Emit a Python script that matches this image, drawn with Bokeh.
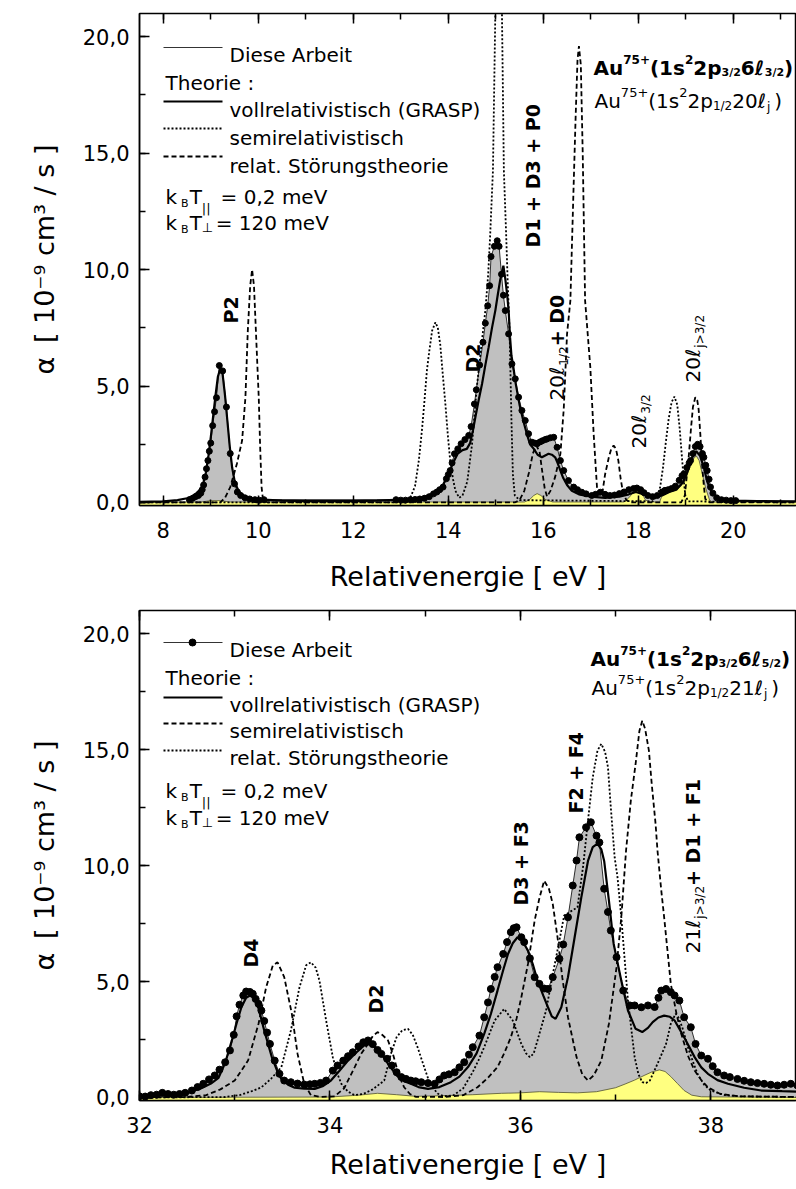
import math
from bokeh.plotting import figure
from bokeh.layouts import column
from bokeh.models import LinearAxis, SingleIntervalTicker, CustomLabelingPolicy
from bokeh.core.properties import value
from bokeh.embed import file_html
from bokeh.resources import INLINE

FONT = "DejaVu Sans"

# ---------------- upper panel: Au75+ 6l3/2 / 20lj resonances ----------------
top_exp_e = [8.55, 8.62, 8.68, 8.74, 8.79, 8.82, 8.85, 8.88, 8.91, 8.94, 8.97, 9.00, 9.04, 9.08, 9.12,
             9.18, 9.25, 9.33, 9.41, 9.50, 9.56, 9.63, 9.72, 9.82, 9.93, 10.02, 10.12,
             12.90, 13.00, 13.10, 13.20, 13.30, 13.40, 13.50, 13.60, 13.69, 13.76, 13.82, 13.89, 13.96,
             14.00, 14.04, 14.08, 14.13, 14.20, 14.27, 14.35, 14.43, 14.48, 14.55, 14.59, 14.66, 14.73,
             14.78, 14.83, 14.87, 14.90, 14.97, 15.03, 15.07, 15.12, 15.16, 15.20, 15.27, 15.34, 15.41,
             15.48, 15.55, 15.62, 15.69, 15.76, 15.82, 15.87, 15.93, 15.98, 16.04, 16.08, 16.15, 16.22,
             16.29, 16.36, 16.43, 16.53, 16.64, 16.72, 16.81, 16.90, 17.02, 17.10, 17.20, 17.30, 17.40,
             17.50, 17.60, 17.70, 17.80, 17.90, 17.97, 18.05, 18.12, 18.20, 18.30, 18.40, 18.50, 18.56,
             18.63, 18.70, 18.78, 18.86, 18.92, 18.96, 19.02, 19.07, 19.10, 19.15, 19.20, 19.25, 19.30,
             19.35, 19.38, 19.42, 19.45, 19.49, 19.52, 19.57, 19.65, 19.75, 19.85, 19.95, 20.05]
top_exp_a = [0.12, 0.18, 0.25, 0.30, 0.40, 0.55, 0.75, 1.09, 1.45, 1.80, 2.20, 2.55, 3.30, 3.90, 4.50,
             5.88, 5.65, 4.10, 2.10, 0.80, 0.45, 0.30, 0.20, 0.15, 0.12, 0.10, 0.12,
             0.12, 0.10, 0.10, 0.12, 0.13, 0.15, 0.18, 0.25, 0.37, 0.45, 0.55, 0.66, 1.02,
             1.20, 1.37, 1.70, 2.09, 2.30, 2.52, 2.70, 2.88, 3.26, 4.23, 4.84, 5.90, 6.88,
             7.70, 8.45, 9.31, 10.56, 11.00, 11.24, 11.00, 9.80, 8.90, 8.24, 7.24, 5.95, 5.31,
             4.52, 3.95, 3.52, 2.95, 2.59, 2.55, 2.52, 2.60, 2.65, 2.70, 2.73, 2.78, 2.80,
             2.37, 1.80, 1.37, 0.94, 0.66, 0.55, 0.44, 0.37, 0.30, 0.35, 0.44, 0.35, 0.30,
             0.32, 0.38, 0.45, 0.55, 0.60, 0.62, 0.55, 0.42, 0.30, 0.25, 0.30, 0.45, 0.52,
             0.55, 0.60, 0.70, 0.95, 1.15, 1.23, 1.50, 1.70, 1.80, 2.10, 2.40, 2.50, 2.40,
             2.10, 1.94, 1.60, 1.37, 1.00, 0.66, 0.40, 0.20, 0.12, 0.10, 0.08, 0.08]

top_grasp_e = [7.5, 8.0, 8.3, 8.5, 8.6, 8.7, 8.8, 8.85, 8.9, 8.95, 9.0, 9.05, 9.1, 9.15, 9.2, 9.25,
               9.3, 9.35, 9.4, 9.45, 9.5, 9.55, 9.6, 9.7, 9.8, 10.0, 10.5, 11.0, 12.0, 12.5, 13.0,
               13.3, 13.5, 13.7, 13.8, 13.9, 14.0, 14.1, 14.2, 14.3, 14.39, 14.46, 14.52, 14.57,
               14.64, 14.71, 14.78, 14.85, 14.92, 14.99, 15.04, 15.09, 15.16, 15.2, 15.24, 15.27,
               15.3, 15.33, 15.36, 15.42, 15.5, 15.58, 15.66, 15.72, 15.8, 15.88, 15.97, 16.04,
               16.11, 16.18, 16.25, 16.3, 16.36, 16.42, 16.5, 16.6, 16.75, 17.0, 17.3, 17.6, 17.8,
               17.95, 18.1, 18.3, 18.5, 18.65, 18.8, 18.95, 19.05, 19.15, 19.22, 19.3, 19.38,
               19.45, 19.55, 19.7, 20.0, 20.5, 21.35]
top_grasp_a = [0.03, 0.05, 0.10, 0.18, 0.25, 0.40, 0.60, 0.90, 1.30, 2.00, 2.80, 3.70, 4.60, 5.40,
               5.75, 5.50, 4.60, 3.50, 2.40, 1.50, 0.95, 0.65, 0.45, 0.28, 0.20, 0.13, 0.08, 0.06,
               0.06, 0.08, 0.12, 0.18, 0.25, 0.40, 0.55, 0.80, 1.20, 1.70, 2.10, 2.25, 2.30, 2.55,
               3.10, 3.66, 4.40, 5.09, 5.90, 6.67, 7.50, 8.24, 8.90, 9.53, 10.17, 9.60, 8.90, 8.24,
               7.10, 6.30, 5.95, 5.10, 4.20, 3.50, 2.90, 2.50, 2.30, 2.05, 1.94, 2.02, 2.09, 2.05,
               1.94, 1.70, 1.37, 1.05, 0.75, 0.50, 0.35, 0.25, 0.20, 0.25, 0.35, 0.45, 0.35, 0.20,
               0.30, 0.45, 0.55, 0.90, 1.40, 2.00, 2.20, 2.00, 1.50, 0.90, 0.40, 0.15, 0.08, 0.06,
               0.05]

top_semi_e = [7.5, 12.9, 13.1, 13.2, 13.3, 13.38, 13.45, 13.5, 13.55, 13.6, 13.66, 13.73, 13.78,
              13.83, 13.88, 13.94, 13.99, 14.04, 14.1, 14.15, 14.23, 14.3, 14.4, 14.5, 14.6, 14.7,
              14.78, 14.84, 14.88, 14.94, 14.99, 15.03, 15.06, 15.1, 15.13, 15.17, 15.22, 15.25,
              15.29, 15.33, 15.36, 15.4, 15.5, 18.3, 18.4, 18.46, 18.52, 18.58, 18.64, 18.7, 18.76,
              18.82, 18.87, 18.92, 18.96, 18.99, 19.05, 21.35]
top_semi_a = [0.0, 0.0, 0.08, 0.20, 0.70, 1.80, 3.20, 4.40, 5.67, 6.50, 7.38, 7.74, 7.50, 6.80,
              5.60, 4.20, 2.90, 1.80, 1.00, 0.50, 0.20, 0.30, 0.90, 2.50, 4.95, 6.80, 8.24, 9.80,
              11.40, 14.25, 21.00, 24.00, 24.50, 23.00, 21.00, 14.25, 11.40, 9.50, 7.40, 3.50,
              1.20, 0.30, 0.10, 0.05, 0.30, 0.66, 1.50, 2.60, 3.60, 4.30, 4.55, 4.20, 3.20, 1.90,
              0.90, 0.30, 0.05, 0.0]

top_pert_e = [7.5, 9.2, 9.3, 9.41, 9.55, 9.66, 9.73, 9.78, 9.83, 9.87, 9.91, 9.95, 10.01, 10.04,
              10.07, 10.1, 10.2, 15.4, 15.5, 15.6, 15.7, 15.78, 15.85, 15.92, 15.98, 16.03, 16.08,
              16.15, 16.25, 16.36, 16.43, 16.5, 16.57, 16.63, 16.68, 16.72, 16.75, 16.79, 16.83,
              16.88, 16.99, 17.06, 17.13, 17.18, 17.25, 17.3, 17.38, 17.43, 17.48, 17.53, 17.58,
              17.63, 17.68, 17.75, 17.85, 18.9, 18.98, 19.06, 19.11, 19.15, 19.2, 19.24, 19.27,
              19.31, 19.34, 19.38, 19.41, 19.5, 21.35]
top_pert_a = [0.0, 0.0, 0.20, 0.66, 1.66, 2.66, 4.52, 7.38, 9.30, 10.00, 9.30, 7.38, 4.52, 2.37,
              0.66, 0.10, 0.0, 0.0, 0.10, 0.50, 1.30, 2.10, 2.45, 2.20, 1.30, 0.60, 0.25, 0.50,
              1.10, 2.09, 4.00, 7.24, 8.67, 13.00, 16.50, 19.00, 19.60, 18.80, 15.00, 8.67, 5.80,
              2.95, 0.66, 0.30, 0.50, 1.20, 1.94, 2.30, 2.45, 2.30, 1.80, 1.00, 0.40, 0.10, 0.0,
              0.0, 0.30, 1.94, 3.20, 4.10, 4.52, 4.40, 4.00, 2.80, 1.66, 0.70, 0.15, 0.0, 0.0]

top_yel_e = [7.5, 8.8, 9.0, 9.2, 9.4, 15.6, 15.7, 15.8, 15.87, 15.95, 16.05, 16.2, 17.7, 17.8,
             17.9, 17.98, 18.08, 18.15, 18.25, 18.45, 18.5, 18.6, 18.7, 18.8, 18.9, 19.0, 19.08,
             19.15, 19.22, 19.28, 19.35, 19.42, 19.5, 19.55, 21.35]
top_yel_a = [0.02, 0.02, 0.08, 0.08, 0.02, 0.02, 0.10, 0.30, 0.38, 0.30, 0.12, 0.02, 0.02, 0.20,
             0.45, 0.50, 0.40, 0.10, 0.02, 0.02, 0.30, 0.50, 0.50, 0.55, 0.70, 1.00, 1.50, 1.85,
             2.00, 1.80, 1.20, 0.60, 0.10, 0.02, 0.02]

# ---------------- lower panel: Au75+ 6l5/2 / 21lj resonances ----------------
bot_exp_e = [32.00, 32.06, 32.12, 32.18, 32.24, 32.30, 32.36, 32.42, 32.48, 32.55, 32.61, 32.67,
             32.73, 32.79, 32.84, 32.90, 32.95, 32.99, 33.02, 33.05, 33.09, 33.12, 33.16, 33.19,
             33.22, 33.25, 33.28, 33.31, 33.34, 33.37, 33.42, 33.47, 33.52, 33.59, 33.66, 33.73,
             33.79, 33.84, 33.90, 33.96, 34.03, 34.08, 34.14, 34.19, 34.24, 34.30, 34.35, 34.40,
             34.45, 34.50, 34.54, 34.60, 34.65, 34.70, 34.75, 34.80, 34.85, 34.90, 34.96, 35.03,
             35.10, 35.15, 35.20, 35.25, 35.31, 35.36, 35.41, 35.46, 35.50, 35.57, 35.62, 35.66,
             35.69, 35.73, 35.76, 35.82, 35.86, 35.90, 35.93, 35.96, 36.01, 36.04, 36.10, 36.15,
             36.20, 36.25, 36.29, 36.34, 36.41, 36.45, 36.50, 36.55, 36.59, 36.62, 36.69, 36.74,
             36.80, 36.83, 36.88, 36.92, 36.95, 37.01, 37.08, 37.15, 37.20, 37.27, 37.34, 37.41,
             37.45, 37.48, 37.53, 37.58, 37.62, 37.67, 37.72, 37.79, 37.84, 37.90, 37.97, 38.02,
             38.07, 38.14, 38.20, 38.28, 38.35, 38.42, 38.49, 38.56, 38.63, 38.70, 38.77, 38.84,
             38.91]
bot_exp_a = [0.05, 0.04, 0.10, 0.12, 0.20, 0.15, 0.12, 0.15, 0.20, 0.30, 0.45, 0.59,
             0.78, 0.95, 1.20, 1.52, 2.03, 2.70, 3.50, 4.00, 4.40, 4.57, 4.55, 4.47,
             4.25, 4.04, 3.75, 3.30, 2.80, 2.31, 1.59, 1.02, 0.73, 0.66, 0.60, 0.56,
             0.57, 0.59, 0.63, 0.73, 1.16, 1.38, 1.59, 1.78, 1.95, 2.20, 2.38, 2.46,
             2.30, 2.05, 1.88, 1.67, 1.38, 1.09, 0.88, 0.80, 0.73, 0.70, 0.66, 0.62,
             0.59, 0.78, 0.95, 1.00, 1.09, 1.30, 1.52, 1.85, 2.17, 2.67, 3.46, 4.10,
             4.68, 5.20, 5.62, 6.19, 6.70, 7.13, 7.30, 7.34, 6.91, 6.70, 6.00, 5.19,
             4.90, 4.70, 4.68, 5.19, 5.98, 6.60, 7.77, 9.14, 10.22, 11.22, 11.65, 11.87,
             11.29, 11.00, 9.00, 8.00, 7.20, 6.05, 4.61, 3.97, 3.97, 3.89, 3.97, 3.90,
             4.30, 4.61, 4.68, 4.54, 4.40, 4.18, 3.46, 3.03, 2.31, 1.81, 1.67, 1.35,
             1.09, 0.95, 0.88, 0.80, 0.72, 0.66, 0.62, 0.59, 0.55, 0.52, 0.55, 0.59,
             0.52]

bot_grasp_e = [32.0, 32.3, 32.5, 32.65, 32.75, 32.83, 32.9, 32.97, 33.02, 33.07, 33.12, 33.16,
               33.2, 33.25, 33.31, 33.39, 33.45, 33.49, 33.56, 33.63, 33.73, 33.84, 33.93, 34.01,
               34.1, 34.19, 34.28, 34.36, 34.41, 34.47, 34.54, 34.62, 34.7, 34.78, 34.85, 34.93,
               35.03, 35.15, 35.27, 35.36, 35.45, 35.54, 35.62, 35.69, 35.76, 35.82, 35.87, 35.92,
               35.97, 36.02, 36.08, 36.13, 36.18, 36.24, 36.29, 36.33, 36.37, 36.43, 36.5, 36.57,
               36.64, 36.71, 36.76, 36.81, 36.85, 36.88, 36.93, 36.98, 37.06, 37.13, 37.21, 37.28,
               37.34, 37.39, 37.45, 37.51, 37.57, 37.62, 37.72, 37.83, 37.9, 37.97, 38.07, 38.18,
               38.35, 38.53, 38.75, 38.95]
bot_grasp_a = [0.05, 0.10, 0.20, 0.40, 0.60, 0.85, 1.50, 2.46, 3.20, 3.89, 4.30, 4.40,
               4.30, 3.85, 2.89, 1.74, 1.10, 0.80, 0.55, 0.42, 0.38, 0.37, 0.50, 0.73,
               1.15, 1.59, 1.95, 2.24, 2.30, 2.20, 1.88, 1.40, 0.95, 0.70, 0.59, 0.45,
               0.37, 0.45, 0.66, 0.90, 1.31, 1.90, 2.74, 3.60, 4.61, 5.50, 6.19, 6.65,
               6.91, 6.75, 6.34, 5.75, 5.04, 4.40, 3.89, 3.50, 3.39, 3.89, 5.19, 6.91,
               8.63, 10.20, 10.80, 10.95, 10.70, 10.20, 8.49, 6.62, 5.04, 3.75, 2.96, 2.82,
               3.00, 3.25, 3.45, 3.53, 3.48, 3.32, 2.60, 1.74, 1.30, 1.02, 0.75, 0.59,
               0.42, 0.30, 0.27, 0.25]

bot_semi_e = [32.0, 32.5, 32.7, 32.85, 33.0, 33.14, 33.25, 33.33, 33.4, 33.45, 33.52, 33.6,
              33.66, 33.73, 33.8, 33.9, 34.05, 34.15, 34.26, 34.33, 34.4, 34.45, 34.5, 34.55,
              34.61, 34.66, 34.7, 34.74, 34.78, 34.84, 34.9, 35.2, 35.4, 35.55, 35.66, 35.76,
              35.83, 35.9, 35.96, 36.01, 36.08, 36.15, 36.2, 36.25, 36.3, 36.34, 36.39, 36.44,
              36.5, 36.55, 36.59, 36.65, 36.71, 36.77, 36.85, 36.93, 37.01, 37.06, 37.11, 37.16,
              37.21, 37.25, 37.28, 37.31, 37.35, 37.38, 37.42, 37.44, 37.48, 37.51, 37.58, 37.64,
              37.69, 37.76, 37.83, 37.9, 37.97, 38.1, 38.3, 38.95]
bot_semi_a = [0.0, 0.02, 0.10, 0.35, 0.73, 1.59, 3.18, 4.75, 5.69, 5.83, 5.19, 3.61,
              1.88, 0.59, 0.10, 0.02, 0.05, 0.40, 1.31, 1.90, 2.31, 2.65, 2.82, 2.70,
              2.46, 1.90, 1.31, 0.80, 0.44, 0.15, 0.03, 0.02, 0.10, 0.44, 0.85, 1.31,
              1.90, 2.60, 3.40, 4.32, 5.76, 7.63, 8.60, 9.35, 9.00, 8.35, 6.91, 5.19,
              3.46, 2.50, 1.74, 1.00, 0.73, 0.95, 1.59, 3.18, 5.62, 7.77, 10.65, 12.80,
              14.38, 15.80, 16.25, 15.90, 14.96, 13.50, 11.80, 10.65, 8.92, 7.77, 4.90, 3.60,
              2.74, 1.80, 1.16, 0.75, 0.44, 0.15, 0.05, 0.02]

bot_pert_e = [32.0, 32.9, 33.05, 33.2, 33.28, 33.38, 33.49, 33.59, 33.68, 33.75, 33.8, 33.85,
              33.89, 33.96, 34.03, 34.08, 34.12, 34.19, 34.26, 34.35, 34.45, 34.57, 34.64, 34.7,
              34.76, 34.82, 34.87, 34.92, 34.99, 35.05, 35.13, 35.2, 35.3, 35.4, 35.5, 35.56,
              35.62, 35.73, 35.83, 35.92, 36.01, 36.06, 36.1, 36.14, 36.18, 36.27, 36.34, 36.41,
              36.46, 36.52, 36.6, 36.66, 36.71, 36.76, 36.81, 36.85, 36.89, 36.92, 36.95, 36.99,
              37.02, 37.06, 37.13, 37.2, 37.24, 37.28, 37.32, 37.36, 37.44, 37.53, 37.58, 37.63,
              37.66, 37.7, 37.77, 37.86, 37.93, 38.0, 38.15, 38.3, 38.95]
bot_pert_a = [0.0, 0.02, 0.10, 0.30, 0.44, 0.80, 1.31, 2.89, 4.75, 5.70, 5.83, 5.60,
              5.04, 3.32, 1.74, 1.00, 0.59, 0.25, 0.10, 0.15, 0.35, 0.73, 1.88, 2.60,
              2.90, 2.96, 2.70, 2.17, 1.31, 0.59, 0.17, 0.05, 0.10, 0.40, 1.10, 1.60,
              2.17, 3.32, 3.82, 3.32, 2.31, 1.90, 1.74, 1.90, 2.46, 3.75, 5.30, 6.77,
              7.85, 8.00, 8.20, 10.00, 11.94, 13.80, 14.96, 15.25, 14.90, 14.24, 12.50, 10.36,
              9.50, 7.77, 4.18, 1.74, 1.00, 0.66, 0.62, 0.73, 1.45, 2.31, 3.18, 3.61,
              3.45, 3.03, 2.03, 1.02, 0.55, 0.30, 0.10, 0.05, 0.02]

bot_yel_e = [32.0, 34.0, 34.3, 34.5, 34.7, 34.9, 35.2, 35.5, 35.8, 36.0, 36.2, 36.4, 36.6,
             36.8, 37.0, 37.1, 37.2, 37.3, 37.38, 37.46, 37.52, 37.58, 37.65, 37.72, 37.8,
             37.9, 38.95]
bot_yel_a = [0.0, 0.02, 0.10, 0.18, 0.12, 0.05, 0.08, 0.12, 0.18, 0.20, 0.25, 0.22, 0.20,
             0.25, 0.42, 0.58, 0.75, 0.95, 1.10, 1.19, 1.12, 0.90, 0.60, 0.30, 0.10,
             0.03, 0.0]

y_tick_labels = {0: "0,0", 5: "5,0", 10: "10,0", 15: "15,0", 20: "20,0"}

# ---------------- text helpers ----------------
W_REG = {" ": .318, "(": .390, ")": .390, "+": .838, ",": .318, ".": .318, "/": .337,
         "=": .838, ">": .838, ":": .337, "|": .337, "ℓ": .47, "⊥": .838,
         "A": .684, "B": .686, "D": .770, "F": .575, "G": .775, "P": .603, "R": .695,
         "S": .635, "T": .611, "V": .684, "a": .613, "b": .635, "c": .550, "e": .615,
         "g": .635, "h": .634, "i": .278, "j": .278, "k": .579, "l": .278, "m": .974,
         "n": .634, "o": .612, "ö": .612, "p": .635, "r": .411, "s": .521, "t": .392,
         "u": .634, "v": .592}
W_BOLD = {" ": .348, "(": .457, ")": .457, "+": .838, "/": .365, "ℓ": .50,
          "A": .774, "D": .832, "F": .685, "P": .735, "u": .712, "s": .595, "p": .716}
for d in "0123456789":
    W_REG[d] = .636
    W_BOLD[d] = .696


def advance(s, size, bold):
    table = W_BOLD if bold else W_REG
    return sum(table.get(ch, 0.6) for ch in s) * size


class Panel:
    def __init__(self, p, xr, yr, left, top, fw, fh, page_top):
        self.p, self.xr, self.yr = p, xr, yr
        self.left, self.top, self.fw, self.fh, self.page_top = left, top, fw, fh, page_top

    def dx(self, px):
        return self.xr[0] + (px - self.left) * (self.xr[1] - self.xr[0]) / self.fw

    def dy(self, py):
        return self.yr[1] - (py - self.page_top - self.top) * (self.yr[1] - self.yr[0]) / self.fh


def rich(panel, x_px, y_px, parts, vertical=False):
    """Chain text pieces (text, size, shift, bold[, gap]); shift > 0 lowers a piece,
    gap adds extra pixels before the piece."""
    pos = y_px if vertical else x_px
    for part in parts:
        text, size, shift, bold = part[:4]
        gap = part[4] if len(part) > 4 else 0
        if vertical:
            pos -= gap
            x, y, ang = x_px + shift, pos, math.pi / 2
            pos -= advance(text, size, bold)
        else:
            pos += gap
            x, y, ang = pos, y_px + shift, 0.0
            pos += advance(text, size, bold)
        panel.p.text(x=[panel.dx(x)], y=[panel.dy(y)], text=[text], angle=ang,
                     text_font=value(FONT), text_font_size=f"{size}px",
                     text_font_style="bold" if bold else "normal",
                     text_align="left", text_baseline="alphabetic", text_color="black")


def make_figure(xr, frame_top, height, major_x, label_standoff):
    p = figure(frame_width=657, frame_height=height, x_range=xr, y_range=(-0.13, 21.0),
               min_border_left=139, min_border_right=0, min_border_top=frame_top,
               min_border_bottom=89, output_backend="svg", toolbar_location=None,
               background_fill_color="white", border_fill_color="white")
    p.grid.visible = False
    p.outline_line_color = "black"
    p.outline_line_width = 1.5
    p.xaxis.ticker = SingleIntervalTicker(interval=major_x, num_minor_ticks=2)
    p.yaxis.ticker = SingleIntervalTicker(interval=5, num_minor_ticks=2)
    p.yaxis.major_label_overrides = y_tick_labels
    for ax in (p.xaxis[0], p.yaxis[0]):
        ax.axis_line_width = 1.5
        ax.major_tick_in, ax.major_tick_out = 10, 0
        ax.minor_tick_in, ax.minor_tick_out = 6, 0
        ax.major_tick_line_width = 1.5
        ax.minor_tick_line_width = 1.5
        ax.major_label_text_font = FONT
        ax.major_label_text_font_size = "21px"
        ax.major_label_text_color = "black"
        ax.axis_label_text_font = FONT
        ax.axis_label_text_font_style = "normal"
        ax.axis_label_text_color = "black"
        ax.axis_label_text_font_size = "27px"
    p.xaxis.major_label_standoff = 16
    p.yaxis.major_label_standoff = 10
    p.xaxis.axis_label = "Relativenergie [ eV ]"
    p.xaxis.axis_label_standoff = label_standoff
    p.yaxis.axis_label = "α\u2002[ 10⁻⁹ cm³ / s ]"
    p.yaxis.axis_label_standoff = 20
    # mirrored tick marks along the top edge, without labels
    top_ax = LinearAxis(ticker=SingleIntervalTicker(interval=major_x, num_minor_ticks=2),
                        major_label_policy=CustomLabelingPolicy(code=""),
                        major_label_standoff=0,
                        major_tick_in=10, major_tick_out=0, minor_tick_in=6, minor_tick_out=0,
                        major_tick_line_width=1.5, minor_tick_line_width=1.5,
                        axis_line_color=None)
    p.add_layout(top_ax, "above")
    return p


def draw_data(p, exp_e, exp_a, grasp_e, grasp_a, semi_e, semi_a, pert_e, pert_a,
              yel_e, yel_a, semi_dash, pert_dash, dot_size):
    p.varea(x=exp_e, y1=[0.0] * len(exp_e), y2=exp_a, fill_color="#c0c0c0")
    p.varea(x=yel_e, y1=[-0.13] * len(yel_e), y2=yel_a, fill_color="#ffff80")
    p.line(yel_e, yel_a, line_color="#505030", line_width=0.8)
    p.line(semi_e, semi_a, line_color="black", line_width=1.8, line_dash=semi_dash)
    p.line(pert_e, pert_a, line_color="black", line_width=1.8, line_dash=pert_dash)
    p.line(grasp_e, grasp_a, line_color="black", line_width=2.2)
    p.line(exp_e, exp_a, line_color="black", line_width=0.8)
    p.scatter(exp_e, exp_a, size=dot_size, fill_color="black", line_color="black")


def temperature_lines(panel, y1, y2):
    rich(panel, 165, y1, [("k", LS, 0, False), ("B", 11, 7, False, 4), ("T", LS, 0, False, 1),
                          ("||", 13, 12, False), ("= 0,2 meV", LS, 0, False, 10)])
    rich(panel, 165, y2, [("k", LS, 0, False), ("B", 11, 7, False, 4), ("T", LS, 0, False, 1),
                          ("⊥", 13, 5, False), ("= 120 meV", LS, 0, False, 3)])


DOTTED = "2 2"
DASHED = "5 3"
LS = 20

# ---------------- upper panel ----------------
p1 = make_figure((7.5, 21.33), 13, 492, 2, 20)
draw_data(p1, top_exp_e, top_exp_a, top_grasp_e, top_grasp_a, top_semi_e, top_semi_a,
          top_pert_e, top_pert_a, top_yel_e, top_yel_a, DOTTED, DASHED, 6)
P1 = Panel(p1, (7.5, 21.33), (-0.13, 21.0), 139, 13, 657, 492, 0)

# legend block
p1.line([P1.dx(163), P1.dx(222)], [P1.dy(47)] * 2, line_color="black", line_width=0.8)
p1.line([P1.dx(163), P1.dx(222)], [P1.dy(101)] * 2, line_color="black", line_width=2.2)
p1.line([P1.dx(163), P1.dx(222)], [P1.dy(128)] * 2, line_color="black", line_width=1.8, line_dash=DOTTED)
p1.line([P1.dx(163), P1.dx(222)], [P1.dy(156)] * 2, line_color="black", line_width=1.8, line_dash=DASHED)
rich(P1, 229, 54, [("Diese Arbeit", LS, 0, False)])
rich(P1, 165, 82, [("Theorie :", LS, 0, False)])
rich(P1, 229, 109, [("vollrelativistisch (GRASP)", LS, 0, False)])
rich(P1, 229, 137, [("semirelativistisch", LS, 0, False)])
rich(P1, 229, 165, [("relat. Störungstheorie", LS, 0, False)])
temperature_lines(P1, 196, 222)

# configuration headings
rich(P1, 593, 67, [("Au", 20, 0, True), ("75+", 12, -8, True), ("(1s", 20, 0, True),
                   ("2", 12, -8, True), ("2p", 20, 0, True), ("3/2", 11, 5, True),
                   ("6ℓ", 20, 0, True), ("3/2", 11, 5, True), (" )", 20, 0, True)])
rich(P1, 594, 100, [("Au", 20, 0, False), ("75+", 13, -8, False), ("(1s", 20, 0, False),
                    ("2", 13, -8, False), ("2p", 20, 0, False), ("1/2", 12, 5, False),
                    ("20ℓ", 20, 0, False), (" j", 12, 6, False), (" )", 20, 0, False)])

# resonance labels
rich(P1, 230, 323, [("P2", 19, 0, True)], vertical=True)
rich(P1, 472, 372, [("D2", 19, 0, True)], vertical=True)
rich(P1, 532, 247, [("D1 + D3 + P0", 19, 0, True)], vertical=True)
rich(P1, 556, 400, [("20ℓ", 20, 0, False), ("1/2", 12, 7, False), ("+ D0", 19, 0, True)],
     vertical=True)
rich(P1, 638, 448, [("20ℓ", 20, 0, False), ("3/2", 12, 7, False)], vertical=True)
rich(P1, 692, 382, [("20ℓ", 20, 0, False), ("j>3/2", 12, 7, False)], vertical=True)

# ---------------- lower panel ----------------
p2 = make_figure((32.0, 38.9), 16, 490, 2, 13)
draw_data(p2, bot_exp_e, bot_exp_a, bot_grasp_e, bot_grasp_a, bot_semi_e, bot_semi_a,
          bot_pert_e, bot_pert_a, bot_yel_e, bot_yel_a, DASHED, DOTTED, 7)
P2 = Panel(p2, (32.0, 38.9), (-0.13, 21.0), 139, 16, 657, 490, 594)

p2.line([P2.dx(163), P2.dx(222)], [P2.dy(642)] * 2, line_color="black", line_width=0.8)
p2.scatter([P2.dx(192)], [P2.dy(642)], size=7, fill_color="black", line_color="black")
p2.line([P2.dx(163), P2.dx(222)], [P2.dy(697)] * 2, line_color="black", line_width=2.2)
p2.line([P2.dx(163), P2.dx(222)], [P2.dy(723)] * 2, line_color="black", line_width=1.8, line_dash=DASHED)
p2.line([P2.dx(163), P2.dx(222)], [P2.dy(750)] * 2, line_color="black", line_width=1.8, line_dash=DOTTED)
rich(P2, 229, 649, [("Diese Arbeit", LS, 0, False)])
rich(P2, 165, 677, [("Theorie :", LS, 0, False)])
rich(P2, 229, 704, [("vollrelativistisch (GRASP)", LS, 0, False)])
rich(P2, 229, 730, [("semirelativistisch", LS, 0, False)])
rich(P2, 229, 757, [("relat. Störungstheorie", LS, 0, False)])
temperature_lines(P2, 790, 817)

rich(P2, 590, 658, [("Au", 20, 0, True), ("75+", 12, -8, True), ("(1s", 20, 0, True),
                    ("2", 12, -8, True), ("2p", 20, 0, True), ("3/2", 11, 5, True),
                    ("6ℓ", 20, 0, True), ("5/2", 11, 5, True), (" )", 20, 0, True)])
rich(P2, 591, 687, [("Au", 20, 0, False), ("75+", 13, -8, False), ("(1s", 20, 0, False),
                    ("2", 13, -8, False), ("2p", 20, 0, False), ("1/2", 12, 5, False),
                    ("21ℓ", 20, 0, False), (" j", 12, 6, False), (" )", 20, 0, False)])

rich(P2, 250, 967, [("D4", 19, 0, True)], vertical=True)
rich(P2, 375, 1013, [("D2", 19, 0, True)], vertical=True)
rich(P2, 520, 905, [("D3 + F3", 19, 0, True)], vertical=True)
rich(P2, 575, 813, [("F2 + F4", 19, 0, True)], vertical=True)
rich(P2, 692, 953, [("21ℓ", 20, 0, False), ("j>3/2", 12, 7, False), ("+ D1 + F1", 19, 0, True)],
     vertical=True)

layout = column(p1, p2, spacing=0)
open("out.html", "w").write(file_html(layout, INLINE))
